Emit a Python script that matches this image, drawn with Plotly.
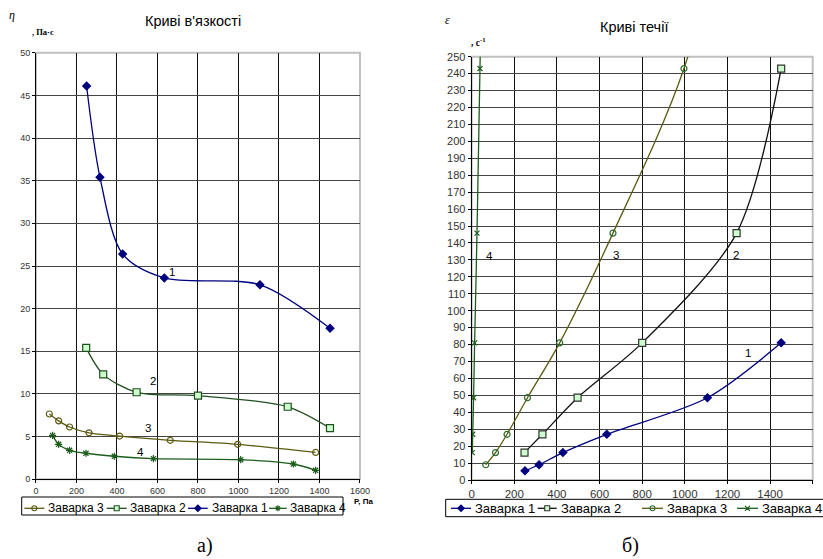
import plotly.graph_objects as go

# ---- data ----
P1 = [250, 316, 428, 634, 1106, 1452]
eta1 = [46.1, 35.4, 26.4, 23.6, 22.8, 17.7]
eps1 = [5.4, 9, 16.2, 27, 48.6, 81]

P2 = [248, 332, 497, 800, 1243, 1452]
eta2 = [15.4, 12.3, 10.2, 9.8, 8.5, 6.0]
eps2 = [16.2, 27, 48.6, 81, 145.8, 243]

P3 = [66, 112, 166, 262, 413, 663, 996, 1381]
eta3 = [7.65, 6.85, 6.13, 5.45, 5.07, 4.57, 4.1, 3.15]
eps3 = [9, 16.2, 27, 48.6, 81, 145.8, 243, 437.4]

P4 = [82, 112, 166, 247, 387, 580, 1011, 1271, 1381]
eta4 = [5.15, 4.1, 3.4, 3.05, 2.7, 2.42, 2.3, 1.79, 1.05]
P4_flow = [3, 5, 9, 14, 25, 39, 67]
eps4 = [16.2, 27, 48.6, 81, 145.8, 243, 437.4]

names = ["Заварка 1", "Заварка 2", "Заварка 3", "Заварка 4"]
x_ticks = [0, 200, 400, 600, 800, 1000, 1200, 1400, 1600]
eta_ticks = list(range(0, 55, 5))
eps_ticks = list(range(0, 260, 10))

NAVY = "#00007f"
GREEN2 = "#1f4f1f"
OLIVE = "#5c5a10"
GREEN4 = "#1c5c1c"

W, H = 823, 559
fig = go.Figure()

def add(x, y, name, color, lcolor, symbol, fill, size, xa, ya):
    fig.add_trace(go.Scatter(
        x=x, y=y, name=name, mode="lines+markers", showlegend=False,
        line=dict(color=lcolor, width=1.3, shape="spline", smoothing=0.85),
        marker=dict(symbol=symbol, size=size, color=fill,
                    line=dict(color=color, width=1.2)),
        xaxis=xa, yaxis=ya))

# left (viscosity)
add(P3, eta3, names[2], OLIVE, OLIVE, "circle", "rgba(255,255,255,0)", 6, "x", "y")
add(P2, eta2, names[1], GREEN2, GREEN2, "square", "#ccffcc", 7, "x", "y")
add(P1, eta1, names[0], NAVY, NAVY, "diamond", NAVY, 6, "x", "y")
add(P4, eta4, names[3], GREEN4, GREEN4, "asterisk", GREEN4, 6, "x", "y")

# right (flow)
add(P1, eps1, names[0], NAVY, NAVY, "diamond", NAVY, 6, "x2", "y2")
add(P2, eps2, names[1], "#333333", "#111111", "square", "#ccffcc", 7, "x2", "y2")
add(P3, eps3, names[2], "#2a6a2a", OLIVE, "circle", "rgba(255,255,255,0)", 6, "x2", "y2")
add(P4_flow, eps4, names[3], GREEN4, GREEN4, "x-thin", GREEN4, 5, "x2", "y2")

def xax(fs):
    return dict(range=[0, 1600], tickvals=x_ticks, showgrid=True, gridcolor="#111111",
                gridwidth=1, zeroline=False, showline=True, linecolor="#000000",
                linewidth=1, ticks="outside", ticklen=3, tickcolor="#000",
                tickfont=dict(family="Arial", size=fs, color="#333"), fixedrange=True)

def yax(fs):
    return dict(showgrid=True, gridcolor="#444444", gridwidth=1, zeroline=False,
                showline=True, linecolor="#000000", linewidth=1, ticks="outside",
                ticklen=3, tickcolor="#000",
                tickfont=dict(family="Arial", size=fs, color="#333"), fixedrange=True)

fig.update_layout(
    width=W, height=H,
    margin=dict(l=0, r=0, t=0, b=0, autoexpand=False),
    paper_bgcolor="white", plot_bgcolor="rgba(0,0,0,0)",
    xaxis=dict(domain=[0.0437, 0.4374], anchor="y", **xax(9)),
    yaxis=dict(domain=[0.1426, 0.9057], anchor="x", range=[0, 50], tickvals=eta_ticks, **yax(9)),
    xaxis2=dict(domain=[0.5731, 0.9875], anchor="y2", **xax(11.5)),
    yaxis2=dict(domain=[0.1413, 0.8986], anchor="x2", range=[0, 250], tickvals=eps_ticks, **yax(11)),
    # page-pixel overlay axes used only for the legend sample glyphs
    xaxis3=dict(domain=[0, 1], range=[0, W], visible=False, fixedrange=True, anchor="y3"),
    yaxis3=dict(domain=[0, 1], range=[H, 0], visible=False, fixedrange=True, anchor="x3"),
    showlegend=False,
)

shapes = []
# plot area grey frame (top / right)
for xr, yr in (("x", "y"), ("x2", "y2")):
    shapes.append(dict(type="rect", xref=xr + " domain", yref=yr + " domain",
                       x0=0, x1=1, y0=0, y1=1, line=dict(color="#c0c0c0", width=2), layer="below"))

ann = []
def txt(x, y, t, size=12, xref="paper", yref="paper", **kw):
    fam = kw.pop("family", "Arial")
    kw.setdefault("xanchor", "center")
    kw.setdefault("yanchor", "middle")
    ann.append(dict(x=x, y=y, text=t, xref=xref, yref=yref, showarrow=False,
                    font=dict(family=fam, size=size, color="#000"), **kw))

def px(x):
    return x / W
def py(y):
    return 1 - y / H

# ---- custom legends (box, sample line, marker, text) ----
legend_specs = [
    ((21.7, 343, 497, 515), 12, 508.3,
     [(0, 24.3, 44.3, 45.7), (1, 106.7, 126.7, 127.7), (2, 188, 207.7, 209.5), (3, 269, 286.7, 288.3)]),
    ((445.7, 830, 499.3, 516.7), 13, 508.3,
     [(4, 451, 471, 473.3), (5, 537.7, 556.7, 559), (6, 642, 663, 664.5), (7, 737, 758, 760)]),
]
for (bx0, bx1, by0, by1), fsize, yc, entries in legend_specs:
    shapes.append(dict(type="rect", xref="paper", yref="paper", x0=px(bx0), x1=px(bx1),
                       y0=py(by1), y1=py(by0), line=dict(color="#000", width=1),
                       fillcolor="white", layer="below"))
    for ti, lx0, lx1, tx in entries:
        tr = fig.data[ti]
        shapes.append(dict(type="line", xref="paper", yref="paper", x0=px(lx0), x1=px(lx1),
                           y0=py(yc), y1=py(yc), line=dict(color=tr.line.color, width=1.3),
                           layer="below"))
        fig.add_trace(go.Scatter(
            x=[(lx0 + lx1) / 2], y=[yc], mode="markers", showlegend=False, hoverinfo="skip",
            marker=dict(symbol=tr.marker.symbol, size=5, color=tr.marker.color,
                        line=dict(color=tr.marker.line.color, width=1.1)),
            xaxis="x3", yaxis="y3", cliponaxis=False))
        txt(px(tx), py(yc), tr.name, fsize, xanchor="left")

# titles
txt(192.5/W, 1-21/H, "Криві в'язкості", 14.5)
txt(634/W, 1-27/H, "Криві течії", 14.5)
# axis labels
txt(12/W, 1-15/H, "<i>η</i>", 12, family="Times New Roman")
txt(43/W, 1-32/H, "<b>, Па·с</b>", 8.5, family="Times New Roman")
txt(447/W, 1-20/H, "<i>ε</i>", 12, family="Times New Roman")
txt(478/W, 1-42/H, "<b>, с<sup>-1</sup></b>", 9.5, family="Times New Roman")
txt(364/W, 1-501/H, "<b>P, Па</b>", 8, family="Arial")
# captions
txt(205/W, 1-545/H, "а)", 20, family="Times New Roman")
txt(630/W, 1-545/H, "б)", 20, family="Times New Roman")
# curve numbers
for x, y, t in [(670, 24.3, "1"), (576, 11.5, "2"), (555, 6.0, "3"), (514, 3.2, "4")]:
    txt(x, y, t, 11.5, xref="x", yref="y")
for x, y, t in [(83, 132, "4"), (676, 133, "3"), (1240, 133, "2"), (1298, 75, "1")]:
    txt(x, y, t, 11.5, xref="x2", yref="y2")

fig.update_layout(annotations=ann, shapes=shapes)
fig.write_html("out.html", config={"displayModeBar": False},
               post_script="document.body.style.margin='0';document.body.style.overflow='hidden';")
